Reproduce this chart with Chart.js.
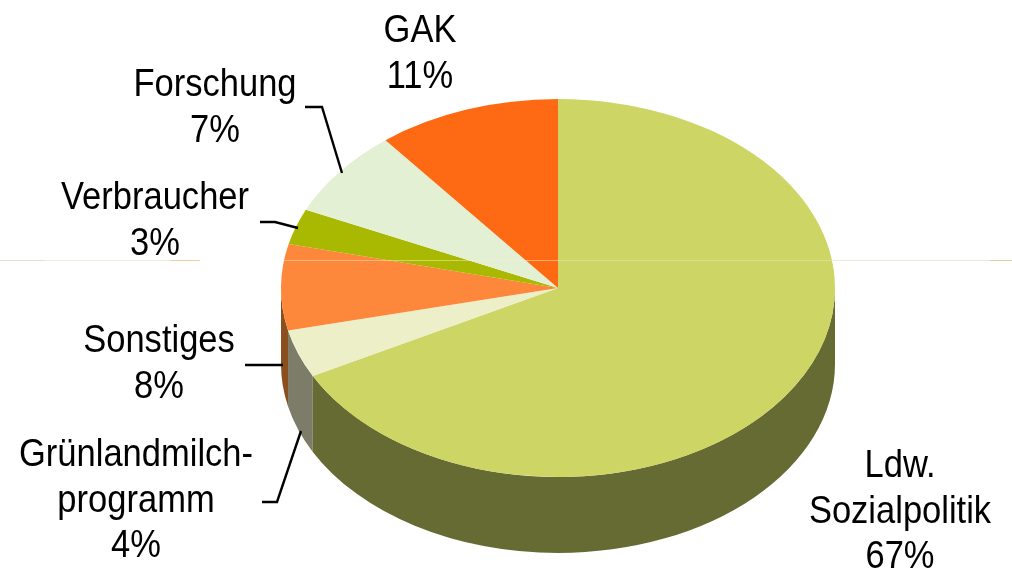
<!DOCTYPE html>
<html lang="de">
<head>
<meta charset="utf-8">
<style>html,body{margin:0;padding:0;background:#fff}canvas{display:block}</style>
<script src="https://cdn.jsdelivr.net/npm/chart.js@4/dist/chart.umd.min.js"></script>
</head>
<body>
<canvas id="c" width="1012" height="570"></canvas>
<script>
const categories = ['Ldw. Sozialpolitik', 'Grünlandmilchprogramm', 'Sonstiges', 'Verbraucher', 'Forschung', 'GAK'];
const sliceValues = [67.3, 4.1, 7.35, 3.05, 7.5, 10.7];
const printedPercents = [67, 4, 8, 3, 7, 11];
const labelLines = [['Ldw.', 'Sozialpolitik'], ['Grünlandmilch-', 'programm'], ['Sonstiges'], ['Verbraucher'], ['Forschung'], ['GAK']];
const topColors = ['#cdd565', '#ecefc8', '#fd873a', '#a9b800', '#e4f0d4', '#fe6a14'];
const sideColors = ['#666b33', '#7c7c68', '#8a4f1c', '#6a7300', '#8e9684', '#9e4208'];

const TILT = 189 / 277, DEPTH = 76;
const FONT = '39px "Liberation Sans", Arial, sans-serif';
const TEXT_X_SCALE = 0.885;
const labelPlace = [[900, 477], [136, 466], [159, 352], [155, 209], [215, 96], [420, 42]];
const LINE_GAP = 45.5;
const leaders = [
  [[262, 502], [277, 502], [301, 431]],
  [[245, 365], [283, 365]],
  [[260, 222], [275, 222], [298, 228]],
  [[305, 107], [322, 107], [342, 173]]
];
const scanSegments = [
  [0, 45, '#dfe3cf'], [45, 170, '#eceedd'], [170, 200, '#e8cfa0'],
  [283, 380, 'rgba(250,220,170,0.55)'], [380, 558, 'rgba(245,240,200,0.5)'], [558, 833, 'rgba(232,236,200,0.45)'],
  [833, 990, '#e8ecd8'], [990, 1012, '#c8dca0']
];

const pseudo3d = {
  id: 'pseudo3d',
  beforeDatasetsDraw(chart) {
    const ctx = chart.ctx;
    const arcs = chart.getDatasetMeta(0).data;
    const cx = arcs[0].x, cy = arcs[0].y, rx = arcs[0].outerRadius, ry = rx * TILT;
    arcs.forEach((arc, i) => {
      const lo = Math.max(arc.startAngle, 0), hi = Math.min(arc.endAngle, Math.PI);
      if (hi > lo) {
        ctx.beginPath();
        ctx.ellipse(cx, cy + DEPTH, rx, ry, 0, lo, hi);
        ctx.ellipse(cx, cy, rx, ry, 0, hi, lo, true);
        ctx.closePath();
        ctx.fillStyle = sideColors[i];
        ctx.fill();
      }
    });
    ctx.save();
    ctx.translate(0, cy);
    ctx.scale(1, TILT);
    ctx.translate(0, -cy);
  },
  afterDatasetsDraw(chart) {
    chart.ctx.restore();
  },
  afterDraw(chart) {
    const ctx = chart.ctx;
    ctx.save();
    ctx.strokeStyle = '#000';
    ctx.lineWidth = 2.4;
    ctx.lineJoin = 'miter';
    leaders.forEach(pts => {
      ctx.beginPath();
      pts.forEach((p, i) => i ? ctx.lineTo(p[0], p[1]) : ctx.moveTo(p[0], p[1]));
      ctx.stroke();
    });
    ctx.fillStyle = '#000';
    ctx.font = FONT;
    ctx.textAlign = 'center';
    ctx.textBaseline = 'alphabetic';
    labelLines.forEach((lines, i) => {
      const all = lines.concat(printedPercents[i] + '%');
      all.forEach((t, j) => {
        ctx.save();
        ctx.translate(labelPlace[i][0], labelPlace[i][1] + j * LINE_GAP);
        ctx.scale(TEXT_X_SCALE, 1);
        ctx.fillText(t, 0, 0);
        ctx.restore();
      });
    });
    ctx.lineWidth = 1;
    scanSegments.forEach(s => {
      ctx.strokeStyle = s[2];
      ctx.beginPath();
      ctx.moveTo(s[0], 260.5);
      ctx.lineTo(s[1], 260.5);
      ctx.stroke();
    });
    ctx.restore();
  }
};

new Chart(document.getElementById('c'), {
  type: 'pie',
  data: {
    labels: categories,
    datasets: [{ data: sliceValues, backgroundColor: topColors, borderWidth: 0, clip: false }]
  },
  options: {
    responsive: false,
    animation: false,
    layout: { padding: { left: 281, right: 177, top: 11, bottom: 5 } },
    plugins: { legend: { display: false }, tooltip: { enabled: false } }
  },
  plugins: [pseudo3d]
});
</script>
</body>
</html>
